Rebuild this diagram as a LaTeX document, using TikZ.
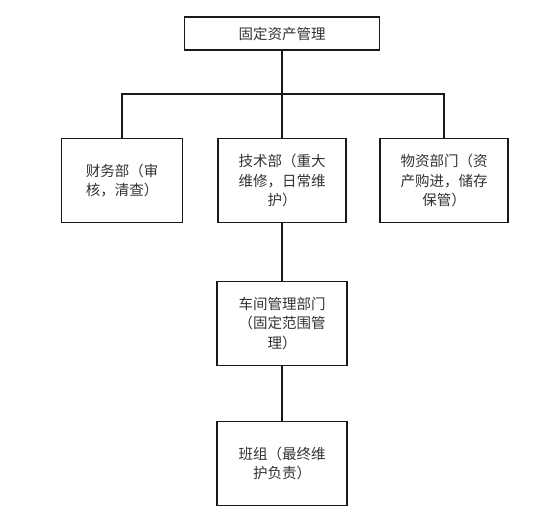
\documentclass[tikz,border=0pt]{standalone}
\usepackage{fontspec}
\newfontfamily\cjk{Noto Sans CJK SC}
\usetikzlibrary{positioning,calc}

\begin{document}
\begin{tikzpicture}[semithick, align=center, on grid, node distance=145pt]

    \tikzset{unit/.style={draw=black!90,line width=1.9pt,rectangle,fill=white,text=black!80,
                          minimum width=128pt,minimum height=84pt,inner sep=0pt,
                          font=\cjk\fontsize{14.5}{19.5}\selectfont},
             link/.style={draw=black!90,line width=1.9pt}}

    \useasboundingbox (0,0) rectangle (541pt,-529pt);

    \node[unit, minimum width=195pt, minimum height=33pt] (asset) at (282pt,-33.5pt) {固定资产管理};
    \node[unit] (tech) [below=147pt of asset]                     {技术部（重大\\维修，日常维\\护）};
    \node[unit, minimum width=121pt] (fin) [left=160pt of tech]   {财务部（审\\核，清查）};
    \node[unit] (mat) [right=162pt of tech]                       {物资部门（资\\产购进，储存\\保管）};
    \node[unit, minimum width=130pt] (shop) [below=143pt of tech] {车间管理部门\\（固定范围管\\理）};
    \node[unit, minimum width=130pt] (team) [below=140pt of shop] {班组（最终维\\护负责）};

    \coordinate (bus) at ($(asset.south)+(0,-43pt)$);

    \path[link] (asset.south) -- (tech.north)
                (fin.north) |- (bus) -| (mat.north)
                (tech.south) -- (shop.north)
                (shop.south) -- (team.north);
\end{tikzpicture}
\end{document}
